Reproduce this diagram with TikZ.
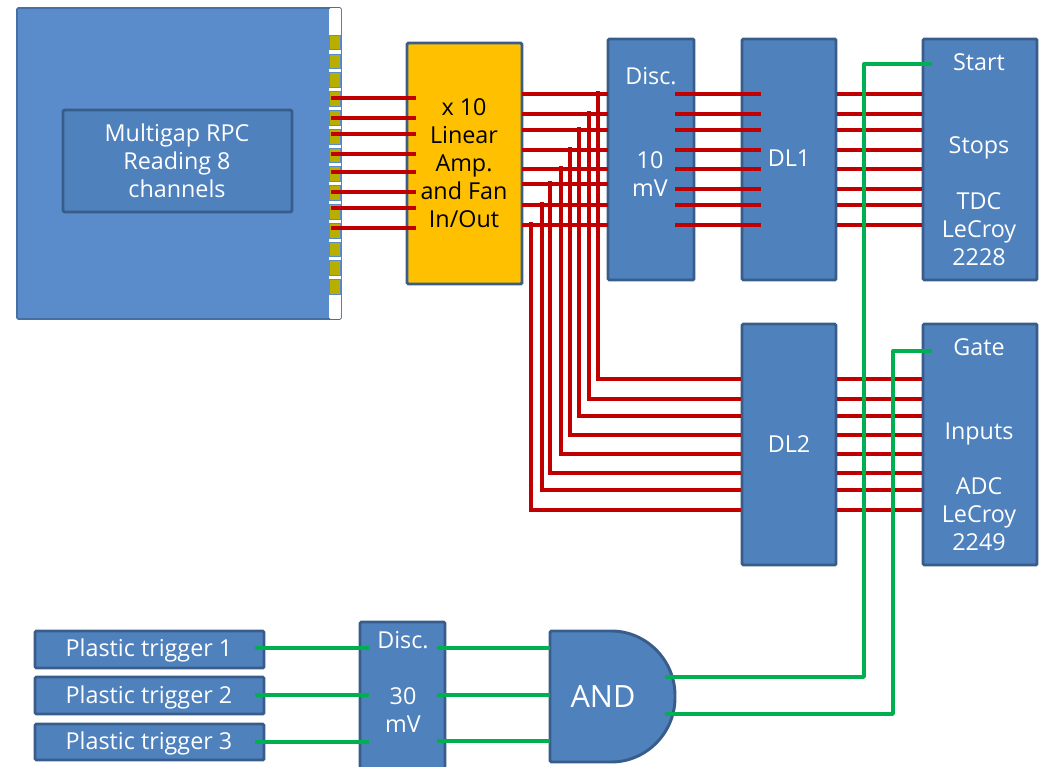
\documentclass[tikz,border=0pt]{standalone}
\usepackage{fontspec}
\setmainfont{Open Sans}
\definecolor{boxblue}{HTML}{4F81BD}
\definecolor{boxline}{HTML}{385D8A}
\definecolor{rpcblue}{HTML}{5A8CCB}
\definecolor{ampfill}{HTML}{FFC000}
\definecolor{cellfill}{HTML}{B8AE00}
\definecolor{wirered}{HTML}{C00000}
\definecolor{wiregreen}{HTML}{00B050}
\tikzset{
	block/.style={draw=boxline, fill=boxblue, line width=2.2pt, rounded corners=1pt, inner sep=0pt},
	label/.style={text=white, font=\fontsize{17.5}{21}\selectfont, align=center, inner sep=0pt},
	redwire/.style={draw=wirered, line width=2.8pt},
	greenwire/.style={draw=wiregreen, line width=2.5pt, line join=round}
}
\newcommand\Block[6][]{
	\node[block, #1, minimum width={(#5-#3)*0.75pt}, minimum height={(#6-#4)*0.75pt}] (#2) at ({(#3+#5)/2},{(#4+#6)/2}) {};
	}
\begin{document}
\begin{tikzpicture}[x=0.75pt, y=-0.75pt]
		\useasboundingbox (0,0) rectangle (1042,767);
		\begin{scope}
			\clip (0,0) rectangle (1042,767);

			% detector and its strip
			\Block[fill=rpcblue, draw=boxline!60!rpcblue, line width=1.2pt]{rpc}{17}{8}{341}{319}
			\Block[line width=2.2pt]{rpcin}{63}{110}{292}{212}
			\node[block, fill=white, draw=none, minimum width=9pt, minimum height=233pt] (strip) at (335,163.5) {};
			\foreach \i in {0,...,13}{
				\node[fill=cellfill, draw=rpcblue, line width=0.5pt, inner sep=0pt, minimum width=8.5pt, minimum height=11pt] (cell\i) at (335,{42.5+18.8*\i}) {};
			}

			% boxes
			\Block[fill=ampfill]{amp}{407}{43}{522}{284}
			\Block{discA}{608}{39}{694}{280}
			\Block{dlA}{742}{39}{836}{280}
			\Block{tdc}{923}{39}{1037}{280}
			\Block{dlB}{742}{324}{836}{565}
			\Block{adc}{923}{324}{1037}{565}
			\Block{trigA}{35}{631}{264}{668}
			\Block{trigB}{35}{677}{264}{714}
			\Block{trigC}{35}{724}{264}{760}
			\Block{discB}{360}{622}{445}{790}
			\draw[block] (550,631) -- (610,631) .. controls (646.5,631) and (675,660.5) .. (675,696.5) .. controls (675,732.5) and (646.5,762) .. (610,762) -- (550,762) -- cycle;

			% signal wires
			\foreach \i/\ya/\yb/\yc/\xt/\yd in {
				1/97.7/94.3/94/597.7/379.3,
				2/117.7/114/114/588.7/398.7,
				3/133.7/130/130/578.7/415.7,
				4/153.7/150/150/569.7/435.3,
				5/172.3/169/168.7/560.7/453.7,
				6/192.3/183.7/188.7/550.3/473.3,
				7/208.3/205/204.7/541.7/490.3,
				8/228.3/225/224.7/531/509.7}{
				\coordinate (rpcout\i) at (331,\ya);
				\coordinate (ampin\i) at (416,\ya);
				\coordinate (ampout\i) at (522,\yb);
				\coordinate (discin\i) at (608,\yb);
				\coordinate (discout\i) at (675,\yc);
				\coordinate (dlin\i) at (761,\yc);
				\coordinate (dlout\i) at (837,\yc);
				\coordinate (tdcin\i) at (922,\yc);
				\coordinate (tap\i) at (\xt,{\yb-3});
				\coordinate (corner\i) at (\xt,\yd);
				\coordinate (dlBin\i) at (741,\yd);
				\coordinate (dlBout\i) at (837,\yd);
				\coordinate (adcin\i) at (922,\yd);
				\draw[redwire] (rpcout\i) -- (ampin\i);
				\draw[redwire] (ampout\i) -- (discin\i);
				\draw[redwire] (discout\i) -- (dlin\i);
				\draw[redwire] (dlout\i) -- (tdcin\i);
				\draw[redwire] (tap\i) -- (corner\i) -- (dlBin\i);
				\draw[redwire] (dlBout\i) -- (adcin\i);
			}

			% trigger wires
			\foreach \i/\n/\ya/\yb in {1/A/648/648, 2/B/695/695, 3/C/742/741}{
				\coordinate (trigout\i) at (255,\ya);
				\coordinate (discBin\i) at (369,\ya);
				\coordinate (discBout\i) at (437,\yb);
				\coordinate (andin\i) at (550,\yb);
				\draw[greenwire] (trigout\i) -- (discBin\i);
				\draw[greenwire] (discBout\i) -- (andin\i);
			}
			\coordinate (andoutA) at (665,677);
			\coordinate (andoutB) at (665,714);
			\coordinate (startin) at (932,64);
			\coordinate (gatein) at (932,351);
			\draw[greenwire] (andoutA) -- (864,677) -- (864,64) -- (startin);
			\draw[greenwire] (andoutB) -- (893,714) -- (893,351) -- (gatein);

			% labels
			\node[label] (rpctext) at (177,161) {Multigap RPC\\Reading 8\\channels};
			\node[label, text=black] (amptext) at (464,163) {x 10\\Linear\\Amp.\\and Fan\\In/Out};
			\node[label] (discAtop) at (651,76) {Disc.};
			\node[label] (discAval) at (650,174) {10\\mV};
			\node[label] (dlAtext) at (789,158) {DL1};
			\node[label] (dlBtext) at (789,444) {DL2};
			\node[label] (starttext) at (979,62) {Start};
			\node[label] (stopstext) at (979,148) {Stops};
			\node[label] (tdctext) at (979,229) {TDC\\LeCroy\\2228};
			\node[label] (gatetext) at (979,347) {Gate};
			\node[label] (inputstext) at (979,434) {Inputs};
			\node[label] (adctext) at (979,514) {ADC\\LeCroy\\2249};
			\node[label] (trigAtext) at (149,650) {Plastic trigger 1};
			\node[label] (trigBtext) at (149,697) {Plastic trigger 2};
			\node[label] (trigCtext) at (149,743) {Plastic trigger 3};
			\node[label] (discBtop) at (403,640) {Disc.};
			\node[label] (discBval) at (403,710) {30\\mV};
			\node[label, font=\fontsize{23}{27}\selectfont] (andtext) at (603,697) {AND};
		\end{scope}
	\end{tikzpicture}
\end{document}
